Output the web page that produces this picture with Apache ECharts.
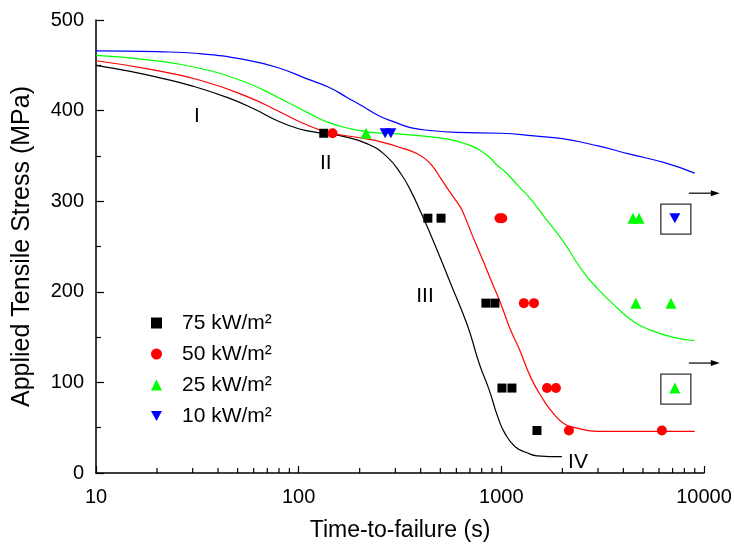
<!DOCTYPE html>
<html><head><meta charset="utf-8">
<script src="https://cdn.jsdelivr.net/npm/echarts@6/dist/echarts.min.js"></script>
<style>html,body{margin:0;padding:0;background:#fff}#c{width:734px;height:544px}</style>
</head><body><div id="c"></div>
<script>
// ---- data ----
const seriesNames = ['75 kW/m²', '50 kW/m²', '25 kW/m²', '10 kW/m²'];
const seriesColors = ['#000000', '#ff0000', '#00ff00', '#0000ff'];
const seriesSymbols = ['rect', 'circle', 'triangle', 'path://M0,0L10,0L5,9Z'];

const pts75 = [[133,375],[434,281.25],[504,281.25],[839,187.5],[930,187.5],[1007,93.75],[1128,93.75],[1499,46.9]];
const pts50 = [[147,375],[980,281.25],[1010,281.25],[1292,187.5],[1449,187.5],[1680,93.75],[1859,93.75],[2155,46.9],[6200,46.9]];
const pts25 = [[215,375],[4460,281.25],[4780,281.25],[4610,187.5],[6870,187.5],[7180,93.75]];
const pts10 = [[267,375],[285,375],[7180,281.25]];

const fit75 = [[10,450],[15,443],[20,437],[30,427],[45,414],[60,402],[80,388],[100,380],[130,375],[170,371],[220,363],[270,350],[320,330],[360,310],[400,288],[460,257],[560,210],[680,163],[780,120],[870,92],[960,62],[1040,44],[1170,29],[1350,22],[1500,19],[1990,18]];
const fit50 = [[10,455],[18,446],[32,434],[55,416],[80,399],[105,386],[140,376],[200,370],[260,365],[330,358],[380,353],[420,347],[460,338],[500,326],[550,312],[600,300],[640,290],[720,262],[810,235],[900,210],[990,188],[1100,160],[1230,136],[1400,105],[1600,82],[1800,66],[2050,54],[2300,50],[3000,46],[5000,46],[9000,46]];
const fit25 = [[10,461],[18,456],[32,447],[55,431],[80,414],[110,398],[140,387],[180,380],[230,376],[320,374],[450,371],[560,368],[650,364],[730,360],[810,354],[880,348],[950,340],[1050,332],[1200,318],[1400,302],[1600,285],[2000,257],[2500,224],[3000,203],[3700,183],[4500,167],[5400,158],[7000,150],[9000,146]];
const fit10 = [[10,466],[20,465],[32,463],[55,456],[80,447],[110,435],[140,426],[175,414],[210,404],[250,394],[300,387],[360,381],[450,378],[600,376],[1000,375],[1450,372],[2000,369],[3000,361],[4300,352],[6500,342],[9000,331]];

const runouts = [[7180,281.25],[7180,93.75]];
const regionLabels = [[31.5,394,'I'],[136,342,'II'],[420,195,'III'],[2390,12,'IV']];

const xTickLabels = ['10','100','1000','10000'];
const xMinorTicks = [20,30,40,50,60,70,80,90,200,300,400,500,600,700,800,900,2000,3000,4000,5000,6000,7000,8000,9000];

// ---- chart ----
const chart = echarts.init(document.getElementById('c'), null, {renderer:'canvas'});
const FONT = 'Liberation Sans';
const ptSets = [pts75, pts50, pts25, pts10];
const fitSets = [fit75, fit50, fit25, fit10];

const series = [];
fitSets.forEach((d, i) => {
  series.push({
    type: 'line', data: d, smooth: 0.5, showSymbol: false, silent: true,
    lineStyle: {color: seriesColors[i], width: 1.2}, z: 2
  });
});
ptSets.forEach((d, i) => {
  series.push({
    name: seriesNames[i], type: 'scatter', data: d,
    symbol: seriesSymbols[i],
    symbolSize: i === 0 ? 9 : (i === 1 ? 10 : (i === 2 ? 11 : [11, 10])),
    itemStyle: {color: seriesColors[i], opacity: 1}, z: 5
  });
});
// minor ticks on log x axis
series.push({
  type: 'custom', data: xMinorTicks.map(v => [v, 0]), silent: true, clip: false, z: 6,
  renderItem: (params, api) => {
    const p = api.coord([api.value(0), 0]);
    return {type: 'line', shape: {x1: p[0], y1: p[1], x2: p[0], y2: p[1] - 5},
      style: {stroke: '#000', lineWidth: 1.2}};
  }
});
// run-out boxes with arrows
series.push({
  type: 'custom', data: runouts, silent: true, clip: false, z: 6,
  renderItem: (params, api) => {
    const p = api.coord([api.value(0), api.value(1)]);
    const ay = p[1] - 25, ax1 = p[0] + 14, ax2 = p[0] + 45;
    return {type: 'group', children: [
      {type: 'rect', shape: {x: p[0] - 14, y: p[1] - 14, width: 30, height: 30},
        style: {fill: 'none', stroke: '#333', lineWidth: 1.3}},
      {type: 'line', shape: {x1: ax1, y1: ay, x2: ax2 - 6, y2: ay}, style: {stroke: '#000', lineWidth: 1.2}},
      {type: 'polygon', shape: {points: [[ax2, ay], [ax2 - 9, ay - 3], [ax2 - 9, ay + 3]]}, style: {fill: '#000'}}
    ]};
  }
});
// region labels
series.push({
  type: 'custom', data: regionLabels, silent: true, clip: false, z: 6,
  renderItem: (params, api) => {
    const p = api.coord([api.value(0), api.value(1)]);
    return {type: 'text', x: p[0], y: p[1],
      style: {text: regionLabels[params.dataIndex][2], fill: '#000', font: '21px ' + FONT, align: 'center', verticalAlign: 'middle'}};
  }
});

chart.setOption({
  animation: false,
  backgroundColor: '#fff',
  textStyle: {fontFamily: FONT},
  grid: {left: 96, right: 30, top: 20, bottom: 71, containLabel: false, outerBoundsMode: 'none'},
  legend: {
    data: seriesNames.map((n, i) => ({name: n, icon: seriesSymbols[i]})),
    orient: 'vertical', left: 146, top: 307,
    itemWidth: 11, itemHeight: 11, itemGap: 9,
    textStyle: {fontFamily: FONT, fontSize: 21, color: '#000', lineHeight: 22, padding: [0, 0, 0, 15]},
    selectedMode: false
  },
  xAxis: {
    type: 'log', logBase: 10, min: 10, max: 10000,
    name: 'Time-to-failure (s)', nameLocation: 'middle', nameGap: 46,
    nameTextStyle: {fontFamily: FONT, fontSize: 23, color: '#000'},
    axisLine: {lineStyle: {color: '#000', width: 1.5}},
    axisTick: {inside: true, length: 7, lineStyle: {color: '#000', width: 1.2}},
    axisLabel: {color: '#000', fontSize: 20, fontFamily: FONT, margin: 14,
      formatter: v => { const s = String(Math.round(v)); return xTickLabels.includes(s) ? s : ''; }},
    splitLine: {show: false}
  },
  yAxis: {
    type: 'value', min: 0, max: 500, interval: 100,
    name: 'Applied Tensile Stress (MPa)', nameLocation: 'middle', nameGap: 61, nameRotate: 90,
    nameTextStyle: {fontFamily: FONT, fontSize: 25, color: '#000'},
    axisLine: {show: true, lineStyle: {color: '#000', width: 1.5}},
    axisTick: {show: true, inside: true, length: 8, lineStyle: {color: '#000', width: 1.2}},
    minorTick: {show: true, splitNumber: 2, length: 5, lineStyle: {color: '#000', width: 1.2}},
    axisLabel: {color: '#000', fontSize: 20, fontFamily: FONT, margin: 12},
    splitLine: {show: false}
  },
  series: series
});
</script>
</body></html>
